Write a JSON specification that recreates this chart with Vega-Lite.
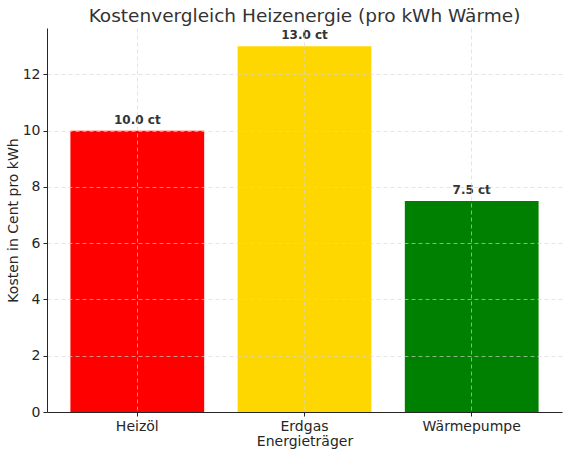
{
  "$schema": "https://vega.github.io/schema/vega-lite/v6.json",
  "autosize": "none",
  "width": 515,
  "height": 384,
  "padding": {"left": 47, "top": 28, "right": 8, "bottom": 45},
  "background": "white",
  "data": {
    "values": [
      {"Energietraeger": "Heizöl", "Kosten": 10.0, "Label": "10.0 ct"},
      {"Energietraeger": "Erdgas", "Kosten": 13.0, "Label": "13.0 ct"},
      {"Energietraeger": "Wärmepumpe", "Kosten": 7.5, "Label": "7.5 ct"}
    ]
  },
  "title": {
    "text": "Kostenvergleich Heizenergie (pro kWh Wärme)",
    "font": "DejaVu Sans",
    "fontSize": 18.5,
    "fontWeight": "normal",
    "color": "#333333",
    "anchor": "middle",
    "offset": 3
  },
  "encoding": {
    "x": {
      "field": "Energietraeger",
      "type": "nominal",
      "sort": null,
      "title": "Energieträger",
      "scale": {"paddingInner": 0.2, "paddingOuter": 0.14},
      "axis": {
        "labelAngle": 0,
        "zindex": 1,
        "grid": true,
        "domain": true
      }
    },
    "y": {
      "field": "Kosten",
      "type": "quantitative",
      "title": "Kosten in Cent pro kWh",
      "scale": {"domain": [0, 13.65], "nice": false},
      "axis": {
        "values": [0, 2, 4, 6, 8, 10, 12],
        "zindex": 1,
        "grid": true
      }
    }
  },
  "layer": [
    {
      "mark": {"type": "bar"},
      "encoding": {
        "color": {
          "field": "Energietraeger",
          "type": "nominal",
          "scale": {
            "domain": ["Heizöl", "Erdgas", "Wärmepumpe"],
            "range": ["#ff0000", "#ffd700", "#008000"]
          },
          "legend": null
        }
      }
    },
    {
      "mark": {
        "type": "text",
        "dy": -11,
        "font": "DejaVu Sans",
        "fontSize": 12,
        "fontWeight": "bold",
        "color": "#333333"
      },
      "encoding": {
        "text": {"field": "Label", "type": "nominal"}
      }
    }
  ],
  "config": {
    "view": {"stroke": null},
    "axis": {
      "labelFont": "DejaVu Sans",
      "titleFont": "DejaVu Sans",
      "labelFontSize": 14,
      "titleFontSize": 14,
      "titleFontWeight": "normal",
      "labelColor": "#262626",
      "titleColor": "#262626",
      "domainColor": "#262626",
      "domainWidth": 1,
      "tickColor": "#262626",
      "tickSize": 4,
      "labelPadding": 3,
      "titlePadding": 3,
      "gridColor": "#d4d4d4",
      "gridDash": [4, 3],
      "gridWidth": 0.8,
      "gridOpacity": 0.8
    },
    "axisX": {"titlePadding": 1},
    "axisY": {"titlePadding": 2}
  }
}
